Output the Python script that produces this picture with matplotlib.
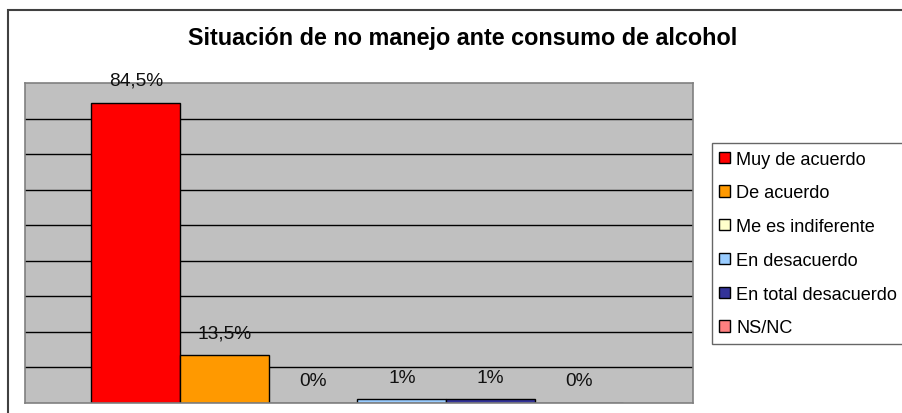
import matplotlib
matplotlib.use('Agg')
import matplotlib.pyplot as plt
from matplotlib.patches import Rectangle, Patch

plt.rcParams['font.family'] = ['Liberation Sans', 'DejaVu Sans']

# datos
categorias = ['Muy de acuerdo', 'De acuerdo', 'Me es indiferente',
              'En desacuerdo', 'En total desacuerdo', 'NS/NC']
valores = [84.5, 13.5, 0, 1, 1, 0]
etiquetas = ['84,5%', '13,5%', '0%', '1%', '1%', '0%']
colores = ['#FF0000', '#FF9900', '#FFFFCC', '#99CCFF', '#333399', '#FF8080']

W, H = 903, 414
fig = plt.figure(figsize=(W / 100, H / 100), dpi=100)

# borde exterior del grafico (recortado a derecha y abajo)
fig.patches.append(Rectangle((8 / W, -0.1), 2, (H - 11) / H + 0.1,
                             transform=fig.transFigure, fill=False,
                             edgecolor='#404040', lw=1.5))

ax = fig.add_axes([25 / W, (H - 404) / H, (692.6 - 25) / W, (404 - 84) / H])
ax.set_facecolor('#C0C0C0')
for s in ax.spines.values():
    s.set_color('#808080')
    s.set_linewidth(1.2)

ax.set_ylim(0, 90)
ax.set_xlim(-1.25, 6.28)
ax.set_yticks(range(10, 90, 10))
ax.set_xticks([])
ax.tick_params(axis='y', length=0, labelleft=False)
ax.yaxis.grid(True, color='black', lw=1)
ax.set_axisbelow(True)

x = list(range(len(valores)))
ax.bar(x, valores, width=1, color=colores, edgecolor='black', lw=1)

for xi, v, t in zip(x, valores, etiquetas):
    ax.annotate(t, (xi, v), xytext=(0, 16), textcoords='offset points',
                ha='center', va='center', fontsize=13.8, color='#111111')

fig.text(462.7 / W, 1 - 38 / H, 'Situación de no manejo ante consumo de alcohol',
         ha='center', va='center', fontsize=16.8, fontweight='bold')

handles = [Patch(facecolor=c, edgecolor='black', lw=1) for c in colores]
leg = fig.legend(handles, categorias, loc='upper left',
                 bbox_to_anchor=(711.7 / W, 1 - 144 / H), bbox_transform=fig.transFigure,
                 fontsize=13.1, frameon=True, fancybox=False, borderaxespad=0,
                 handlelength=0.58, handleheight=0.58, handletextpad=0.35,
                 labelspacing=0.92, borderpad=0.42)
leg.get_frame().set_edgecolor('#404040')
leg.get_frame().set_linewidth(1)

fig.savefig('out.png', dpi=100)
